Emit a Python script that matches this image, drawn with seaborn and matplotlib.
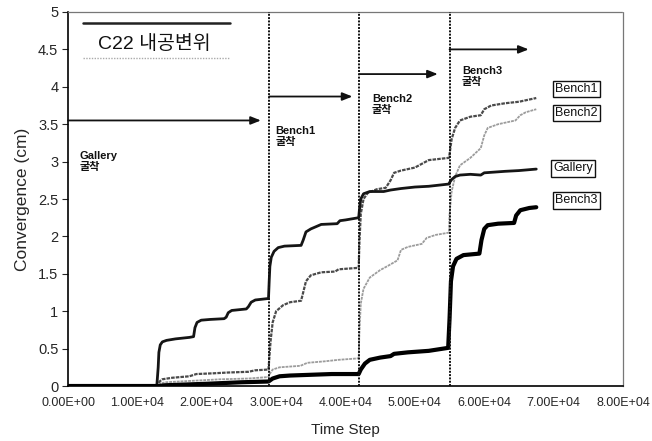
import matplotlib
matplotlib.use("Agg")
import matplotlib.pyplot as plt
from matplotlib.ticker import FuncFormatter, MultipleLocator
import seaborn as sns
import pandas as pd

# Convergence histories (time step, cm) for each excavation stage
gallery_t = [0, 12800, 13000, 13100, 13300, 13600, 14200, 15500, 17500, 18100, 18300,
             18600, 19200, 20500, 22500, 22800, 23100, 23600, 25700, 26000, 26400, 27000,
             28900, 29000, 29100, 29300, 29700, 30300, 31200, 33600, 33900, 34300, 35000,
             36500, 38800, 39200, 40000, 41900, 42000, 42200, 42600, 43500, 45500, 46500,
             48000, 50000, 52000, 54900, 55000, 55300, 55800, 56500, 58000, 59500, 60000,
             61500, 63000, 65000, 67500]
gallery_v = [0, 0, 0.25, 0.45, 0.55, 0.59, 0.61, 0.63, 0.65, 0.66, 0.78,
             0.85, 0.88, 0.89, 0.90, 0.92, 0.98, 1.01, 1.03, 1.06, 1.12, 1.15,
             1.17, 1.40, 1.60, 1.72, 1.80, 1.85, 1.87, 1.88, 1.95, 2.06, 2.10,
             2.16, 2.17, 2.21, 2.22, 2.25, 2.35, 2.50, 2.57, 2.60, 2.60, 2.62,
             2.64, 2.66, 2.67, 2.70, 2.72, 2.76, 2.80, 2.82, 2.83, 2.82, 2.85,
             2.86, 2.87, 2.88, 2.90]

bench1_t = [0, 13000, 13200, 13600, 15000, 17500, 18500, 21000, 23000, 26000, 27000,
            28900, 29000, 29200, 29500, 30000, 31000, 32000, 33600, 33900, 34300, 35000,
            36500, 38500, 39000, 41900, 42000, 42200, 42600, 43200, 44500, 45800, 46500,
            47000, 48000, 50000, 51200, 52000, 54900, 55000, 55300, 55800, 56500, 58000,
            59500, 60000, 61000, 63000, 65000, 67500]
bench1_v = [0, 0, 0.06, 0.09, 0.11, 0.13, 0.16, 0.17, 0.18, 0.19, 0.21,
            0.22, 0.35, 0.60, 0.85, 1.00, 1.08, 1.12, 1.14, 1.25, 1.40, 1.48,
            1.52, 1.53, 1.56, 1.58, 1.90, 2.30, 2.50, 2.58, 2.63, 2.65, 2.75,
            2.85, 2.88, 2.92, 2.98, 3.02, 3.05, 3.10, 3.30, 3.45, 3.55, 3.60,
            3.62, 3.70, 3.75, 3.78, 3.80, 3.85]

bench2_t = [0, 13000, 13300, 14000, 18000, 22000, 26000, 28900, 29000, 29500, 30500,
            33500, 34500, 37000, 39000, 41900, 42000, 42200, 42600, 43500, 45000, 46000,
            47500, 48000, 49000, 51000, 51700, 53000, 54900, 55000, 55300, 55800, 56500,
            58000, 59500, 60000, 60500, 62000, 64500, 65200, 66000, 67500]
bench2_v = [0, 0, 0.03, 0.05, 0.07, 0.09, 0.10, 0.12, 0.15, 0.22, 0.25,
            0.27, 0.31, 0.33, 0.35, 0.37, 0.70, 1.10, 1.30, 1.45, 1.55, 1.60,
            1.68, 1.82, 1.86, 1.90, 1.98, 2.02, 2.05, 2.30, 2.60, 2.80, 2.95,
            3.05, 3.18, 3.35, 3.45, 3.50, 3.55, 3.62, 3.66, 3.70]

bench3_t = [0, 13000, 14000, 20000, 25000, 28900, 29500, 30500, 32000, 35000, 38000,
            41900, 42200, 42800, 43500, 45000, 46500, 47000, 49000, 52000, 54800, 55000,
            55200, 55500, 56000, 57000, 59300, 59600, 60000, 60500, 62000, 64300, 64600,
            65200, 66500, 67500]
bench3_v = [0, 0, 0.01, 0.03, 0.05, 0.06, 0.10, 0.13, 0.14, 0.15, 0.16,
            0.16, 0.22, 0.30, 0.35, 0.38, 0.40, 0.43, 0.45, 0.47, 0.51, 0.90,
            1.40, 1.60, 1.70, 1.75, 1.77, 1.95, 2.10, 2.15, 2.17, 2.18, 2.28,
            2.35, 2.38, 2.39]

# Excavation start steps and the extent of each stage arrow
stage_names = ["Gallery", "Bench1", "Bench2", "Bench3"]
stage_start = [0, 29000, 42000, 55000]
arrow_end = [27800, 41000, 53300, 66400]
arrow_level = [3.55, 3.87, 4.17, 4.50]

series = {
    "Gallery": (gallery_t, gallery_v),
    "Bench1": (bench1_t, bench1_v),
    "Bench2": (bench2_t, bench2_v),
    "Bench3": (bench3_t, bench3_v),
}
frames = []
for name, (t, v) in series.items():
    frames.append(pd.DataFrame({"step": t, "conv": v, "stage": name}))
df = pd.concat(frames, ignore_index=True)

sns.set_theme(style="white")
plt.rcParams["font.family"] = ["Liberation Sans", "Noto Sans CJK KR"]

fig = plt.figure(figsize=(6.52, 4.41), dpi=100)
ax = fig.add_axes([0.1043, 0.1247, 0.8512, 0.8481])

styles = {
    "Gallery": dict(color="#151515", lw=2.0, ls="-"),
    "Bench1": dict(color="#4a4a4a", lw=1.6, ls=(0, (1.6, 0.5))),
    "Bench2": dict(color="#9c9c9c", lw=1.3, ls=(0, (1.6, 0.5))),
    "Bench3": dict(color="#000000", lw=3.0, ls="-"),
}
for name in ["Bench2", "Bench1", "Gallery", "Bench3"]:
    st = styles[name]
    sns.lineplot(data=df[df["stage"] == name], x="step", y="conv", ax=ax,
                 estimator=None, sort=True, color=st["color"], lw=st["lw"],
                 linestyle=st["ls"], legend=False)

ax.set_xlim(0, 80000)
ax.set_ylim(0, 5)
ax.xaxis.set_major_locator(MultipleLocator(10000))
ax.yaxis.set_major_locator(MultipleLocator(0.5))
ax.xaxis.set_major_formatter(FuncFormatter(lambda v, p: f"{v:.2E}"))
ax.yaxis.set_major_formatter(FuncFormatter(lambda v, p: f"{v:g}"))
ax.tick_params(axis="x", direction="in", length=4, width=0.8, labelsize=9, pad=8)
ax.tick_params(axis="y", direction="out", length=4, width=0.8, labelsize=10.5, pad=3,
               left=True)

for side in ["left", "bottom"]:
    ax.spines[side].set_color("black")
    ax.spines[side].set_linewidth(1.2)
for side in ["top", "right"]:
    ax.spines[side].set_color("#777777")
    ax.spines[side].set_linewidth(0.9)
    ax.spines[side].set_linestyle((0, (1, 1)))

ax.set_xlabel("Time Step", fontsize=11, labelpad=10)
ax.set_ylabel("Convergence (cm)", fontsize=12.5, labelpad=6)

# Stage boundaries
for s in stage_start[1:]:
    ax.axvline(s, color="#111111", lw=1.4, ls=(0, (1, 0.7)), zorder=3)

# Stage arrows
for s, e, lv in zip(stage_start, arrow_end, arrow_level):
    ax.annotate("", xy=(e, lv), xytext=(s, lv),
                arrowprops=dict(arrowstyle="-|>,head_length=0.5,head_width=0.2",
                                color="#111111", lw=1.3, shrinkA=0, shrinkB=0))

# Stage captions
caption_pos = [(1700, 3.0), (29900, 3.34), (43800, 3.76), (56800, 4.14)]
for name, (cx, cy) in zip(stage_names, caption_pos):
    ax.text(cx, cy, f"{name}\n굴착", fontsize=8, ha="left", va="center",
            linespacing=1.15, color="#111111", fontweight="bold")

# Boxed end labels
end_labels = {"Bench1": (70200, 3.97), "Bench2": (70200, 3.65),
              "Gallery": (69900, 2.91), "Bench3": (70200, 2.48)}
for name, (lx, ly) in end_labels.items():
    ax.text(lx, ly, name, fontsize=9, ha="left", va="center", color="#111111",
            bbox=dict(boxstyle="square,pad=0.18", fc="white", ec="#111111", lw=1.0))

# Chart caption panel
ax.plot([0.027, 0.292], [0.971, 0.971], transform=ax.transAxes, color="#222222", lw=1.8)
ax.plot([0.027, 0.292], [0.877, 0.877], transform=ax.transAxes, color="#aaaaaa",
        lw=1.0, ls=(0, (1, 1)))
ax.text(0.155, 0.914, "C22 내공변위", transform=ax.transAxes, fontsize=14,
        ha="center", va="center", color="#111111")

fig.savefig("out.png", dpi=100)
